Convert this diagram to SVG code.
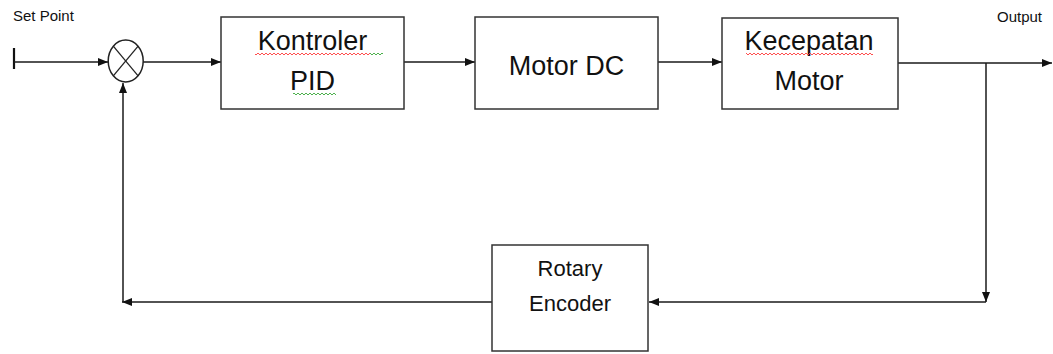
<svg xmlns="http://www.w3.org/2000/svg" width="1053" height="354" viewBox="0 0 1053 354">
  <style>
    .box { fill: #ffffff; stroke: #333333; stroke-width: 1.5; }
    .wire { fill: none; stroke: #1a1a1a; stroke-width: 1.5; }
    .label { font-family: "Liberation Sans", Arial, sans-serif; fill: #111111; text-anchor: middle; }
    .big { font-size: 27px; }
    .mid { font-size: 22px; }
    .small { font-family: "Liberation Sans", Arial, sans-serif; fill: #111111; font-size: 15px; }
  </style>
  <defs>
    <marker id="arrow" viewBox="0 0 10 10" refX="10" refY="5" markerWidth="10" markerHeight="10" markerUnits="userSpaceOnUse" orient="auto">
      <path d="M0,1 L10,5 L0,9 Z" fill="#111111"/>
    </marker>
    <pattern id="waveRed" width="4" height="4" patternUnits="userSpaceOnUse">
      <polyline points="0,3 2,1 4,3" fill="none" stroke="#ff3b3b" stroke-width="0.9"/>
    </pattern>
    <pattern id="waveGreen" width="4" height="4" patternUnits="userSpaceOnUse">
      <polyline points="0,3 2,1 4,3" fill="none" stroke="#3aa83a" stroke-width="0.9"/>
    </pattern>
  </defs>

  <rect width="1053" height="354" fill="#ffffff"/>

  <!-- signal paths -->
  <g id="connectors">
    <line x1="14" y1="48" x2="14" y2="69" stroke="#111111" stroke-width="2.2"/>
    <line class="wire" x1="14" y1="62" x2="108" y2="62" marker-end="url(#arrow)"/>
    <line class="wire" x1="143" y1="62" x2="221" y2="62" marker-end="url(#arrow)"/>
    <line class="wire" x1="404" y1="62" x2="475" y2="62" marker-end="url(#arrow)"/>
    <line class="wire" x1="658" y1="62" x2="722" y2="62" marker-end="url(#arrow)"/>
    <line class="wire" x1="898" y1="63" x2="1052" y2="63" marker-end="url(#arrow)"/>
    <line class="wire" x1="986" y1="63" x2="986" y2="302" marker-end="url(#arrow)"/>
    <line class="wire" x1="986" y1="302" x2="649" y2="302" marker-end="url(#arrow)"/>
    <line class="wire" x1="492" y1="302" x2="122" y2="302" marker-end="url(#arrow)"/>
    <line class="wire" x1="123" y1="302" x2="123" y2="83" marker-end="url(#arrow)"/>
  </g>

  <!-- summing junction -->
  <g id="sum">
    <ellipse cx="125.7" cy="61" rx="17.5" ry="21" fill="#ffffff" stroke="#222222" stroke-width="1.5"/>
    <line x1="113.3" y1="46.2" x2="138.1" y2="75.8" stroke="#222222" stroke-width="1.3"/>
    <line x1="138.1" y1="46.2" x2="113.3" y2="75.8" stroke="#222222" stroke-width="1.3"/>
  </g>

  <g id="pid">
    <rect class="box" x="221" y="17" width="183" height="92"/>
    <text class="label big" x="312.5" y="50">Kontroler</text>
    <text class="label big" x="312.5" y="90">PID</text>
    <rect x="255" y="51" width="115" height="4" fill="url(#waveRed)"/>
    <rect x="370" y="51" width="13" height="4" fill="url(#waveGreen)"/>
    <rect x="293" y="93" width="43" height="4" fill="url(#waveGreen)"/>
  </g>

  <g id="motor-dc">
    <rect class="box" x="475" y="17" width="183" height="92"/>
    <text class="label big" x="566.5" y="75">Motor DC</text>
  </g>

  <g id="kecepatan">
    <rect class="box" x="722" y="18" width="176" height="91"/>
    <text class="label big" x="809" y="50">Kecepatan</text>
    <text class="label big" x="809" y="90">Motor</text>
    <rect x="746" y="51" width="127" height="4" fill="url(#waveRed)"/>
  </g>

  <g id="encoder">
    <rect class="box" x="492" y="245" width="156" height="106"/>
    <text class="label mid" x="570" y="276">Rotary</text>
    <text class="label mid" x="570" y="311">Encoder</text>
  </g>

  <g id="set-point">
    <text class="small" x="13" y="21">Set Point</text>
  </g>
  <g id="output">
    <text class="small" x="1042" y="22" text-anchor="end" font-size="16.5">Output</text>
  </g>
</svg>
